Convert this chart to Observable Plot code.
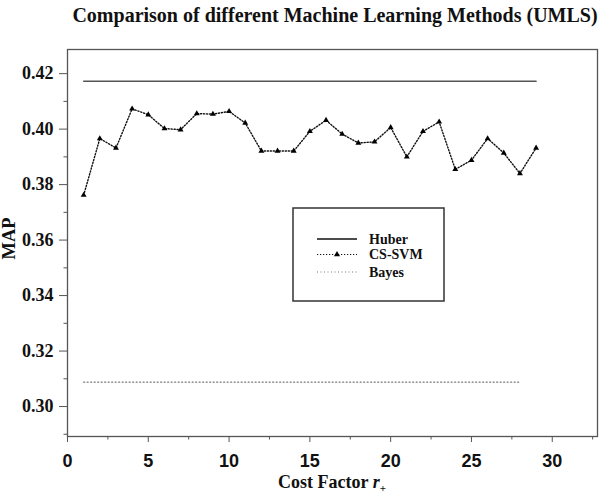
<!DOCTYPE html>
<html>
<head>
<meta charset="utf-8">
<script src="https://cdn.jsdelivr.net/npm/d3@7"></script>
<script src="https://cdn.jsdelivr.net/npm/@observablehq/plot@0.6"></script>
<style>
  html, body { margin: 0; padding: 0; background: #fff; }
  #wrap { position: relative; width: 600px; height: 497px; overflow: hidden; }
  #wrap svg.plot { position: absolute; left: 0; top: 0; }
  .title { position: absolute; left: 70px; width: 530px; top: 4px; line-height: 22px; text-align: center;
           font: bold 20px "Liberation Serif", "Times New Roman", serif; color: #111; white-space: nowrap; }
  .xlabel { position: absolute; left: 67px; width: 530px; top: 472px; line-height: 17px; text-align: center;
           font: bold 18px "Liberation Serif", serif; color: #111; white-space: nowrap; }
  .xlabel sub { font-size: 11px; vertical-align: -4px; line-height: 0; }
  .ylabel { position: absolute; left: -11px; top: 229px; width: 40px; line-height: 18px; text-align: center; transform: rotate(-90deg);
           font: bold 18.5px "Liberation Serif", serif; color: #111; }
  .legend { position: absolute; left: 292px; top: 207px; }
  g[aria-label="y-axis tick label"] text { font-family: "Liberation Serif", "Times New Roman", serif; }
</style>
</head>
<body>
<div id="wrap">
  <div class="title">Comparison of different Machine Learning Methods (UMLS)</div>
  <div class="ylabel">MAP</div>
  <div class="xlabel">Cost Factor <i>r</i><sub>+</sub></div>
</div>
<script>
// ---- data ----
const costFactor = [1,2,3,4,5,6,7,8,9,10,11,12,13,14,15,16,17,18,19,20,21,22,23,24,25,26,27,28,29];
const csSvmMAP = [0.3762,0.3966,0.3932,0.4073,0.4052,0.4002,0.3998,0.4056,0.4054,0.4064,0.4022,0.3921,0.3921,0.3921,0.3992,0.4032,0.3982,0.3950,0.3954,0.4006,0.3900,0.3992,0.4026,0.3855,0.3888,0.3966,0.3914,0.3840,0.3932];
const huberMAP = 0.4173;
const huberRange = [1, 29];
const bayesMAP = 0.3088;
const bayesRange = [1, 28];
const yMajorTicks = [0.30, 0.32, 0.34, 0.36, 0.38, 0.40, 0.42];
const yMinorTicks = [0.29, 0.31, 0.33, 0.35, 0.37, 0.39, 0.41];
const xMajorTicks = [0, 5, 10, 15, 20, 25, 30];
const xMinorTicks = [2.5, 7.5, 12.5, 17.5, 22.5, 27.5, 32.5];
const seriesNames = ["Huber", "CS-SVM", "Bayes"];

const csSvm = costFactor.map((x, i) => ({x, y: csSvmMAP[i]}));
const huber = huberRange.map(x => ({x, y: huberMAP}));
const bayes = bayesRange.map(x => ({x, y: bayesMAP}));

const sansTick = "'Liberation Sans', Arial, sans-serif";
const serifTick = "'Liberation Serif', 'Times New Roman', serif";

const chart = Plot.plot({
  width: 600,
  height: 497,
  marginTop: 49,
  marginBottom: 61,
  marginLeft: 67,
  marginRight: 3,
  style: {fontWeight: "bold", color: "#111", background: "#fff"},
  x: {domain: [0, 32.8]},
  y: {domain: [0.2892, 0.4287]},
  marks: [
    Plot.frame({stroke: "#555", strokeWidth: 1.3}),
    Plot.axisY(yMinorTicks, {tickSize: 3.5, text: null, stroke: "#555", label: null}),
    Plot.axisY(yMajorTicks, {tickSize: 8, tickPadding: 6, tickFormat: d3.format(".2f"), fontSize: 18, fontFamily: serifTick, stroke: "#555", label: null}),
    Plot.axisX(xMinorTicks, {tickSize: 3.5, text: null, stroke: "#555", label: null}),
    Plot.axisX(xMajorTicks, {tickSize: 6, tickPadding: 12, fontSize: 18, fontFamily: sansTick, stroke: "#555", label: null}),
    Plot.line(huber, {x: "x", y: "y", stroke: "#555", strokeWidth: 1.5}),
    Plot.line(bayes, {x: "x", y: "y", stroke: "#777", strokeWidth: 1.2, strokeDasharray: "1,2.5"}),
    Plot.line(csSvm, {x: "x", y: "y", stroke: "#111", strokeWidth: 1.4, strokeDasharray: "1.2,1.8"}),
    Plot.dot(csSvm, {x: "x", y: "y", symbol: "triangle", r: 2.2, fill: "#000", stroke: "none"})
  ]
});
chart.classList.add("plot");
d3.select(chart).selectAll('g[aria-label="y-axis tick label"]').attr("font-family", serifTick);
const wrap = document.getElementById("wrap");
wrap.insertBefore(chart, wrap.firstChild);

// ---- legend ----
const lg = d3.create("svg").attr("class", "legend").attr("width", 154).attr("height", 96);
lg.append("rect").attr("x", 1).attr("y", 1).attr("width", 151).attr("height", 93)
  .attr("fill", "#fff").attr("stroke", "#333").attr("stroke-width", 1.5);
const styles = [
  {stroke: "#111", dash: null, w: 1.3, tri: false},
  {stroke: "#111", dash: "1.2,1.8", w: 1.2, tri: true},
  {stroke: "#777", dash: "1,2.5", w: 1.2, tri: false}
];
const rowY = [32, 47.5, 65];
seriesNames.forEach((name, i) => {
  const s = styles[i];
  const l = lg.append("line").attr("x1", 25).attr("x2", 65).attr("y1", rowY[i]).attr("y2", rowY[i])
    .attr("stroke", s.stroke).attr("stroke-width", s.w);
  if (s.dash) l.attr("stroke-dasharray", s.dash);
  if (s.tri) lg.append("path").attr("d", d3.symbol(d3.symbolTriangle, 16)()).attr("transform", `translate(45,${rowY[i]})`).attr("fill", "#000");
  lg.append("text").attr("x", 77).attr("y", rowY[i]).attr("dy", "0.35em")
    .attr("font-family", "'Liberation Serif', serif").attr("font-weight", "bold").attr("font-size", 14).attr("fill", "#111")
    .text(name);
});
wrap.appendChild(lg.node());
</script>
</body>
</html>
